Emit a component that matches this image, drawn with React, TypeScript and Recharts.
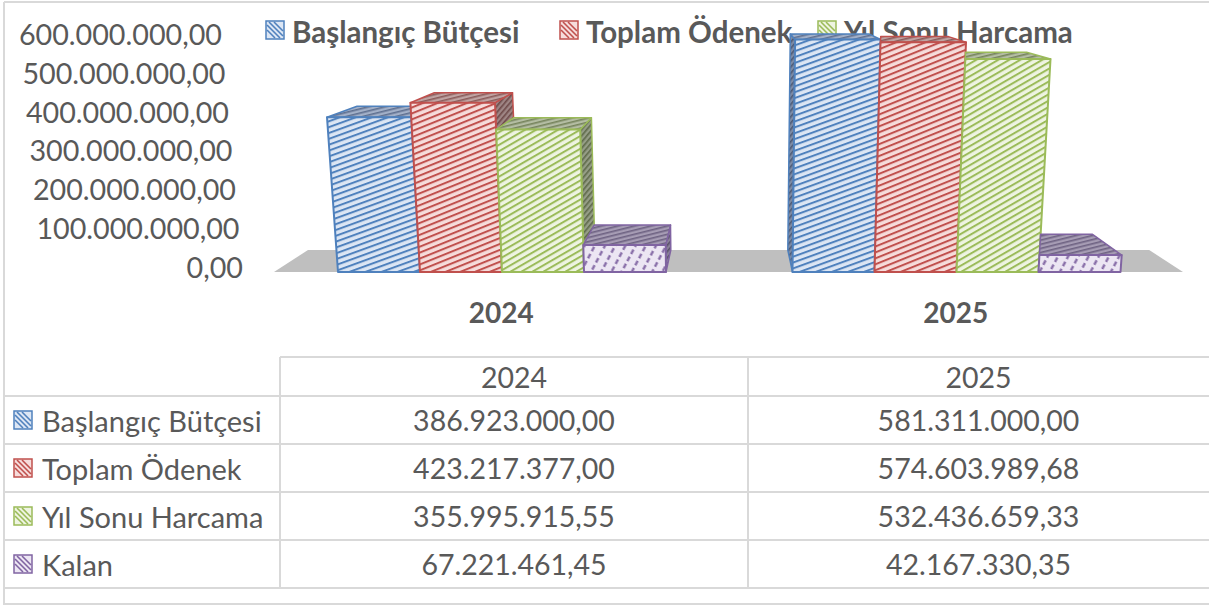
import { BarChart, Bar, XAxis, YAxis, Customized } from "recharts";

const categories = ["2024", "2025"];
const seriesNames = ["Başlangıç Bütçesi", "Toplam Ödenek", "Yıl Sonu Harcama", "Kalan"];
const baslangicButcesi = [386923000.0, 581311000.0];
const toplamOdenek = [423217377.0, 574603989.68];
const yilSonuHarcama = [355995915.55, 532436659.33];
const kalan = [67221461.45, 42167330.35];
const yTicks = [0, 100000000, 200000000, 300000000, 400000000, 500000000, 600000000];
const legendCount = 3; // "Kalan" is not shown in the legend

const seriesValues = [baslangicButcesi, toplamOdenek, yilSonuHarcama, kalan];
const keys = ["s0", "s1", "s2", "s3"];

const data = categories.map((name, i) => {
  const row: any = { name };
  keys.forEach((k, s) => (row[k] = seriesValues[s][i]));
  return row;
});

const TEXT = "#595959";
const GRID = "#D9D9D9";
const FONT = "Lato, 'Open Sans', sans-serif";

const STYLES = [
  { stroke: "#4F81BD", front: "#DCE6F4", top: "#A2B0C8", topLine: "#5F7090", side: "#7D8BA5", sideLine: "#4C5A75", angle: -20 },
  { stroke: "#C0504D", front: "#F6DCDB", top: "#BFA3A2", topLine: "#8A5B5A", side: "#9E8584", sideLine: "#6E4A49", angle: -22 },
  { stroke: "#9BBB59", front: "#EEF4E1", top: "#B4BDA3", topLine: "#76845C", side: "#959D86", sideLine: "#5F6A4A", angle: -30 },
  { stroke: "#8064A2", front: "#ECE6F3", top: "#A69CB4", topLine: "#6E6282", side: "#8A8199", sideLine: "#5A506B", angle: -62 },
];

// rough perspective of the 3d chart
const VPX = 730;
const K_LEAN = 1.82e-4;
const K_DX = 0.0746;
const DY0 = -22;
const K_DY = 0.0714;

type P = [number, number];
const pts = (a: P[]) => a.map((p) => `${p[0].toFixed(1)},${p[1].toFixed(1)}`).join(" ");

const fmt = (v: number) => {
  const [int, dec] = v.toFixed(2).split(".");
  return int.replace(/\B(?=(\d{3})+(?!\d))/g, ".") + "," + dec;
};

// keep the part of a polygon on the right of the line a->b (a at the bottom, b above it)
const clipRight = (poly: P[], a: P, b: P): P[] => {
  const side = (p: P) => (b[0] - a[0]) * (p[1] - a[1]) - (b[1] - a[1]) * (p[0] - a[0]);
  const out: P[] = [];
  for (let i = 0; i < poly.length; i++) {
    const cur = poly[i];
    const prev = poly[(i + poly.length - 1) % poly.length];
    const sc = side(cur);
    const sp = side(prev);
    const inC = sc >= 0;
    const inP = sp >= 0;
    if (inC !== inP) {
      const t = sp / (sp - sc);
      out.push([prev[0] + (cur[0] - prev[0]) * t, prev[1] + (cur[1] - prev[1]) * t]);
    }
    if (inC) out.push(cur);
  }
  return out;
};

const makeShape = (si: number) => (props: any) => {
  const { x, y, width, height, payload } = props;
  if (!height || height <= 0) return null;
  const st = STYLES[si];
  const base = y + height;
  const lean = (px: number, py: number) => px + (px - VPX) * K_LEAN * (base - py);
  const back = (p: P): P => [p[0] - (p[0] - VPX) * K_DX, p[1] + DY0 + (base - p[1]) * K_DY];
  const fbl: P = [x, base];
  const fbr: P = [x + width, base];
  const ftl: P = [lean(x, y), y];
  const ftr: P = [lean(x + width, y), y];
  const btl = back(ftl);
  const btr = back(ftr);

  let top: P[] = [ftl, btl, btr, ftr];
  let side: P[] | null = null;
  if (x + width < VPX) {
    side = [ftr, btr, back(fbr), fbr];
  } else if (x > VPX) {
    const own = payload[keys[si]];
    if (si === 0) {
      side = [ftl, btl, back(fbl), fbl];
    } else {
      const nv = payload[keys[si - 1]];
      if (nv < own) {
        const ny = base - (nv * height) / own;
        const cut: P = [lean(x, ny), ny];
        side = [ftl, btl, back(cut), cut];
      } else {
        // the taller bar on the left hides part of the top
        const up: P = [lean(x, base - 600), base - 600];
        top = clipRight(top, fbl, up);
      }
    }
  }

  return (
    <g>
      {side && <polygon points={pts(side)} fill={`url(#side${si})`} stroke={st.stroke} strokeWidth={1.5} strokeLinejoin="round" />}
      {top.length > 2 && (
        <polygon points={pts(top)} fill={`url(#top${si})`} stroke={st.stroke} strokeWidth={1.5} strokeLinejoin="round" />
      )}
      <polygon points={pts([fbl, ftl, ftr, fbr])} fill={`url(#front${si})`} stroke={st.stroke} strokeWidth={2} strokeLinejoin="round" />
    </g>
  );
};

const Defs = () => (
  <defs>
    {STYLES.map((st, i) => (
      <g key={i}>
        <pattern id={`front${i}`} patternUnits="userSpaceOnUse" width={8} height={i === 3 ? 9 : 5.5} patternTransform={`rotate(${st.angle})`}>
          <rect width={8} height={i === 3 ? 9 : 5.5} fill={st.front} />
          {i === 3 ? (
            <line x1={0} y1={1.5} x2={8} y2={1.5} stroke={st.stroke} strokeWidth={2.2} strokeDasharray="5 3" />
          ) : (
            <rect y={0} width={8} height={2} fill={st.stroke} />
          )}
        </pattern>
        <pattern id={`top${i}`} patternUnits="userSpaceOnUse" width={8} height={4} patternTransform="rotate(-14)">
          <rect width={8} height={4} fill={st.top} />
          <rect width={8} height={1.6} fill={st.topLine} />
        </pattern>
        <pattern id={`side${i}`} patternUnits="userSpaceOnUse" width={6} height={4} patternTransform="rotate(-50)">
          <rect width={6} height={4} fill={st.side} />
          <rect width={6} height={1.6} fill={st.sideLine} />
        </pattern>
      </g>
    ))}
  </defs>
);

const Floor = (props: any) => {
  const yAxisMap = props.yAxisMap || {};
  const ya: any = Object.values(yAxisMap)[0];
  const base = ya && ya.scale ? ya.scale(0) : 272;
  const left = 274;
  const right = 1183;
  const back = (p: P): P => [p[0] - (p[0] - VPX) * K_DX, p[1] + DY0];
  const a: P = [left, base];
  const b: P = [right, base];
  return (
    <g>
      <Defs />
      <polygon points={pts([a, back(a), back(b), b])} fill="#BFBFBF" />
    </g>
  );
};

const LegendMarker = ({ x, y, color, fill }: { x: number; y: number; color: string; fill: string }) => (
  <g>
    <rect x={x} y={y} width={18} height={18} fill={fill} stroke={color} strokeWidth={1.5} />
    {[-8, -3, 2, 7].map((d) => (
      <line key={d} x1={x + 1 + Math.max(0, d)} y1={y + 1 + Math.max(0, -d)} x2={x + 17 - Math.max(0, -d)} y2={y + 17 - Math.max(0, d)} stroke={color} strokeWidth={1.6} />
    ))}
  </g>
);

const legendX = [266, 560, 818];

const Overlay = () => {
  const colX = [280, 748, 1209];
  const rowY = [357, 396, 444, 492, 540, 588, 604];
  return (
    <g fontFamily={FONT} fill={TEXT}>
      {/* chart border */}
      <line x1={4} y1={2} x2={1209} y2={2} stroke={GRID} strokeWidth={2} />
      <line x1={4} y1={2} x2={4} y2={605} stroke={GRID} strokeWidth={2} />

      {/* legend */}
      {seriesNames.slice(0, legendCount).map((n, i) => (
        <g key={n}>
          <LegendMarker x={legendX[i]} y={21} color={STYLES[i].stroke} fill={STYLES[i].front} />
          <text x={legendX[i] + 26} y={31} fontSize={29.5} fontWeight={700} dominantBaseline="central" fill={TEXT}>
            {n}
          </text>
        </g>
      ))}

      {/* data table */}
      <line x1={colX[0]} y1={rowY[0]} x2={1209} y2={rowY[0]} stroke={GRID} strokeWidth={2} />
      {rowY.slice(1).map((ry) => (
        <line key={ry} x1={4} y1={ry} x2={1209} y2={ry} stroke={GRID} strokeWidth={2} />
      ))}
      {colX.slice(0, 2).map((cx) => (
        <line key={cx} x1={cx} y1={rowY[0]} x2={cx} y2={rowY[5]} stroke={GRID} strokeWidth={2} />
      ))}
      {categories.map((c, ci) => (
        <text key={c} x={(colX[ci] + colX[ci + 1]) / 2} y={(rowY[0] + rowY[1]) / 2} fontSize={28.5} textAnchor="middle" dominantBaseline="central" fill={TEXT}>
          {c}
        </text>
      ))}
      {seriesNames.map((n, si) => {
        const cy = (rowY[si + 1] + rowY[si + 2]) / 2;
        return (
          <g key={n}>
            <LegendMarker x={14} y={cy - 9} color={STYLES[si].stroke} fill={STYLES[si].front} />
            <text x={42} y={cy} fontSize={29} dominantBaseline="central" fill={TEXT}>
              {n}
            </text>
            {categories.map((c, ci) => (
              <text key={c} x={(colX[ci] + colX[ci + 1]) / 2} y={cy} fontSize={28.5} textAnchor="middle" dominantBaseline="central" fill={TEXT}>
                {fmt(seriesValues[si][ci])}
              </text>
            ))}
          </g>
        );
      })}
    </g>
  );
};

const YTick = (props: any) => {
  const { y, payload } = props;
  const h = 272 - y;
  return (
    <text x={243 - h * 0.0875} y={y - 5 + h * 0.029} textAnchor="end" dominantBaseline="central" fontSize={28.7} fontFamily={FONT} fill={TEXT}>
      {fmt(payload.value)}
    </text>
  );
};

const XTick = (props: any) => {
  const { x, payload } = props;
  return (
    <text x={x} y={312} textAnchor="middle" dominantBaseline="central" fontSize={28} fontWeight={700} fontFamily={FONT} fill={TEXT}>
      {payload.value}
    </text>
  );
};

export default function App() {
  return (
    <div style={{ position: "absolute", left: 0, top: 0, width: 1209, height: 606, background: "#fff" }}>
      <BarChart
        width={1209}
        height={606}
        data={data}
        margin={{ top: 32, right: 26, left: 0, bottom: 304 }}
        barGap={0}
        barCategoryGap={64}
      >
        <Customized component={Floor} />
        <XAxis dataKey="name" axisLine={false} tickLine={false} height={30} tick={<XTick />} interval={0} />
        <YAxis
          width={274}
          domain={[0, 600000000]}
          ticks={yTicks}
          axisLine={false}
          tickLine={false}
          tick={<YTick />}
          interval={0}
        />
        {keys.map((k, si) => (
          <Bar key={k} dataKey={k} name={seriesNames[si]} isAnimationActive={false} shape={makeShape(si)} />
        ))}
        <Customized component={Overlay} />
      </BarChart>
    </div>
  );
}
